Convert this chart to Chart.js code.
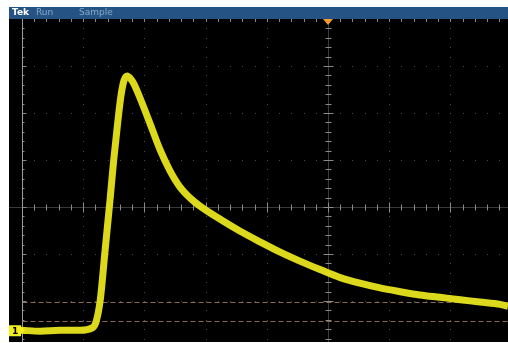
<!DOCTYPE html>
<html>
<head>
<meta charset="utf-8">
<script src="https://cdn.jsdelivr.net/npm/chart.js@4.4.0/dist/chart.umd.min.js"></script>
<style>
  html, body { margin: 0; padding: 0; background: #fff; }
  #wrap { width: 508px; height: 343px; }
</style>
</head>
<body>
<div id="wrap"><canvas id="scope" width="508" height="343"></canvas></div>
<script>
// Trace, in graticule divisions (x: time div from centre, y: volts div from centre)
const traceX = [-5.00, -4.70, -4.38, -4.05, -3.85, -3.79, -3.72, -3.64, -3.56, -3.50, -3.43, -3.38, -3.33, -3.28, -3.23, -3.17, -3.07, -2.91, -2.74, -2.58, -2.42, -2.25, -2.09, -1.76, -1.44, -1.11, -0.78, -0.46, -0.13, 0.20, 0.52, 0.85, 1.18, 1.50, 1.83, 2.16, 2.48, 2.81, 2.94];
const traceY = [-2.62, -2.64, -2.62, -2.62, -2.57, -2.45, -1.98, -0.91, 0.15, 1.00, 1.85, 2.38, 2.70, 2.79, 2.74, 2.62, 2.32, 1.79, 1.21, 0.77, 0.43, 0.19, 0.02, -0.26, -0.51, -0.74, -0.96, -1.15, -1.33, -1.50, -1.62, -1.72, -1.80, -1.87, -1.92, -1.97, -2.02, -2.07, -2.11];

// Horizontal cursors (divisions)
const cursorLevels = [-2.02, -2.43];
const groundLevel = -2.62;

const X_MIN = -5.21, X_MAX = 2.94;
const Y_MIN = -2.87, Y_MAX = 4.0;

const scopePlugin = {
    id: 'scope',
    beforeDraw(chart) {
        const ctx = chart.ctx;
        const a = chart.chartArea;
        ctx.save();
        ctx.fillStyle = '#ffffff';
        ctx.fillRect(0, 0, chart.width, chart.height);
        ctx.fillStyle = '#000000';
        ctx.fillRect(a.left, a.top, a.right - a.left, a.bottom - a.top);
        // status bar
        ctx.fillStyle = '#255384';
        ctx.fillRect(a.left, 7, a.right - a.left, a.top - 7);
        ctx.font = 'bold 9px "DejaVu Sans", sans-serif';
        ctx.textBaseline = 'middle';
        ctx.fillStyle = '#ffffff';
        ctx.fillText('Tek', 12, 13);
        ctx.font = '9px "DejaVu Sans", sans-serif';
        ctx.fillStyle = '#86a8cc';
        ctx.fillText('Run', 36, 13);
        ctx.fillText('Sample', 79, 13);
        ctx.restore();
    },
    beforeDatasetsDraw(chart) {
        const ctx = chart.ctx;
        const a = chart.chartArea;
        const xs = chart.scales.x, ys = chart.scales.y;
        const px = v => Math.round(xs.getPixelForValue(v)) + 0.5;
        const py = v => Math.round(ys.getPixelForValue(v)) + 0.5;
        ctx.save();
        ctx.beginPath();
        ctx.rect(a.left, a.top, a.right - a.left, a.bottom - a.top);
        ctx.clip();

        // dotted division lines
        ctx.fillStyle = '#4a4a4a';
        for (let d = -4; d <= 2; d++) {
            if (d === 0) continue;
            for (let t = -3; t <= 4; t += 0.2) ctx.fillRect(px(d) - 0.5, py(t) - 0.5, 1, 1);
        }
        for (let d = -2; d <= 3; d++) {
            if (d === 0) continue;
            for (let t = -5; t <= 3; t += 0.2) ctx.fillRect(px(t) - 0.5, py(d) - 0.5, 1, 1);
        }

        // centre cross
        ctx.strokeStyle = '#3a3a3a';
        ctx.lineWidth = 1;
        ctx.beginPath();
        ctx.moveTo(a.left, py(0)); ctx.lineTo(a.right, py(0));
        ctx.moveTo(px(0), a.top); ctx.lineTo(px(0), a.bottom);
        ctx.stroke();
        ctx.strokeStyle = '#8a8a8a';
        ctx.beginPath();
        for (let t = -5; t <= 3; t += 0.2) {
            const x = px(t), big = Math.abs(t - Math.round(t)) < 0.01;
            ctx.moveTo(x, py(0) - (big ? 5 : 3)); ctx.lineTo(x, py(0) + (big ? 5 : 3));
            ctx.moveTo(x, a.top); ctx.lineTo(x, a.top + 3);
        }
        for (let t = -3; t <= 4; t += 0.2) {
            const y = py(t), big = Math.abs(t - Math.round(t)) < 0.01;
            ctx.moveTo(px(0) - (big ? 5 : 3), y); ctx.lineTo(px(0) + (big ? 5 : 3), y);
            ctx.moveTo(px(-5), y); ctx.lineTo(px(-5) + (big ? 4 : 2), y);
        }
        ctx.stroke();

        // left graticule edge
        ctx.strokeStyle = '#9a9a9a';
        ctx.beginPath();
        ctx.moveTo(px(-5), a.top); ctx.lineTo(px(-5), a.bottom);
        ctx.stroke();

        // cursors
        ctx.strokeStyle = '#8c6a52';
        ctx.setLineDash([5, 3]);
        ctx.beginPath();
        cursorLevels.forEach(c => { ctx.moveTo(px(-5), py(c)); ctx.lineTo(a.right, py(c)); });
        ctx.stroke();
        ctx.restore();
    },
    afterDatasetsDraw(chart) {
        const ctx = chart.ctx;
        const a = chart.chartArea;
        const xs = chart.scales.x, ys = chart.scales.y;
        const cx = xs.getPixelForValue(0);
        ctx.save();
        // trigger position marker
        ctx.fillStyle = '#f29a2e';
        ctx.beginPath();
        ctx.moveTo(cx - 5, a.top); ctx.lineTo(cx + 5, a.top); ctx.lineTo(cx, a.top + 6);
        ctx.closePath();
        ctx.fill();
        // channel 1 ground marker
        const gy = ys.getPixelForValue(groundLevel);
        ctx.fillStyle = '#f2ef1c';
        ctx.fillRect(a.left, gy - 5, 12, 11);
        ctx.beginPath();
        ctx.moveTo(a.left + 12, gy - 4); ctx.lineTo(a.left + 16, gy); ctx.lineTo(a.left + 12, gy + 4);
        ctx.fill();
        ctx.fillStyle = '#000';
        ctx.font = 'bold 9px "DejaVu Sans", sans-serif';
        ctx.textBaseline = 'middle';
        ctx.fillText('1', a.left + 3, gy + 1);
        ctx.restore();
    }
};

const points = traceX.map((x, i) => ({ x: x, y: traceY[i] }));

new Chart(document.getElementById('scope'), {
    type: 'line',
    data: {
        datasets: [{
            label: 'CH1',
            data: points,
            borderColor: 'rgba(232, 228, 30, 0.95)',
            borderWidth: 7,
            pointRadius: 0,
            cubicInterpolationMode: 'monotone',
            fill: false
        }]
    },
    options: {
        responsive: false,
        animation: false,
        layout: { padding: { left: 9, top: 19, right: 0, bottom: 1 } },
        plugins: { legend: { display: false }, tooltip: { enabled: false } },
        scales: {
            x: { type: 'linear', min: X_MIN, max: X_MAX, display: false },
            y: { type: 'linear', min: Y_MIN, max: Y_MAX, display: false }
        }
    },
    plugins: [scopePlugin]
});
</script>
</body>
</html>
